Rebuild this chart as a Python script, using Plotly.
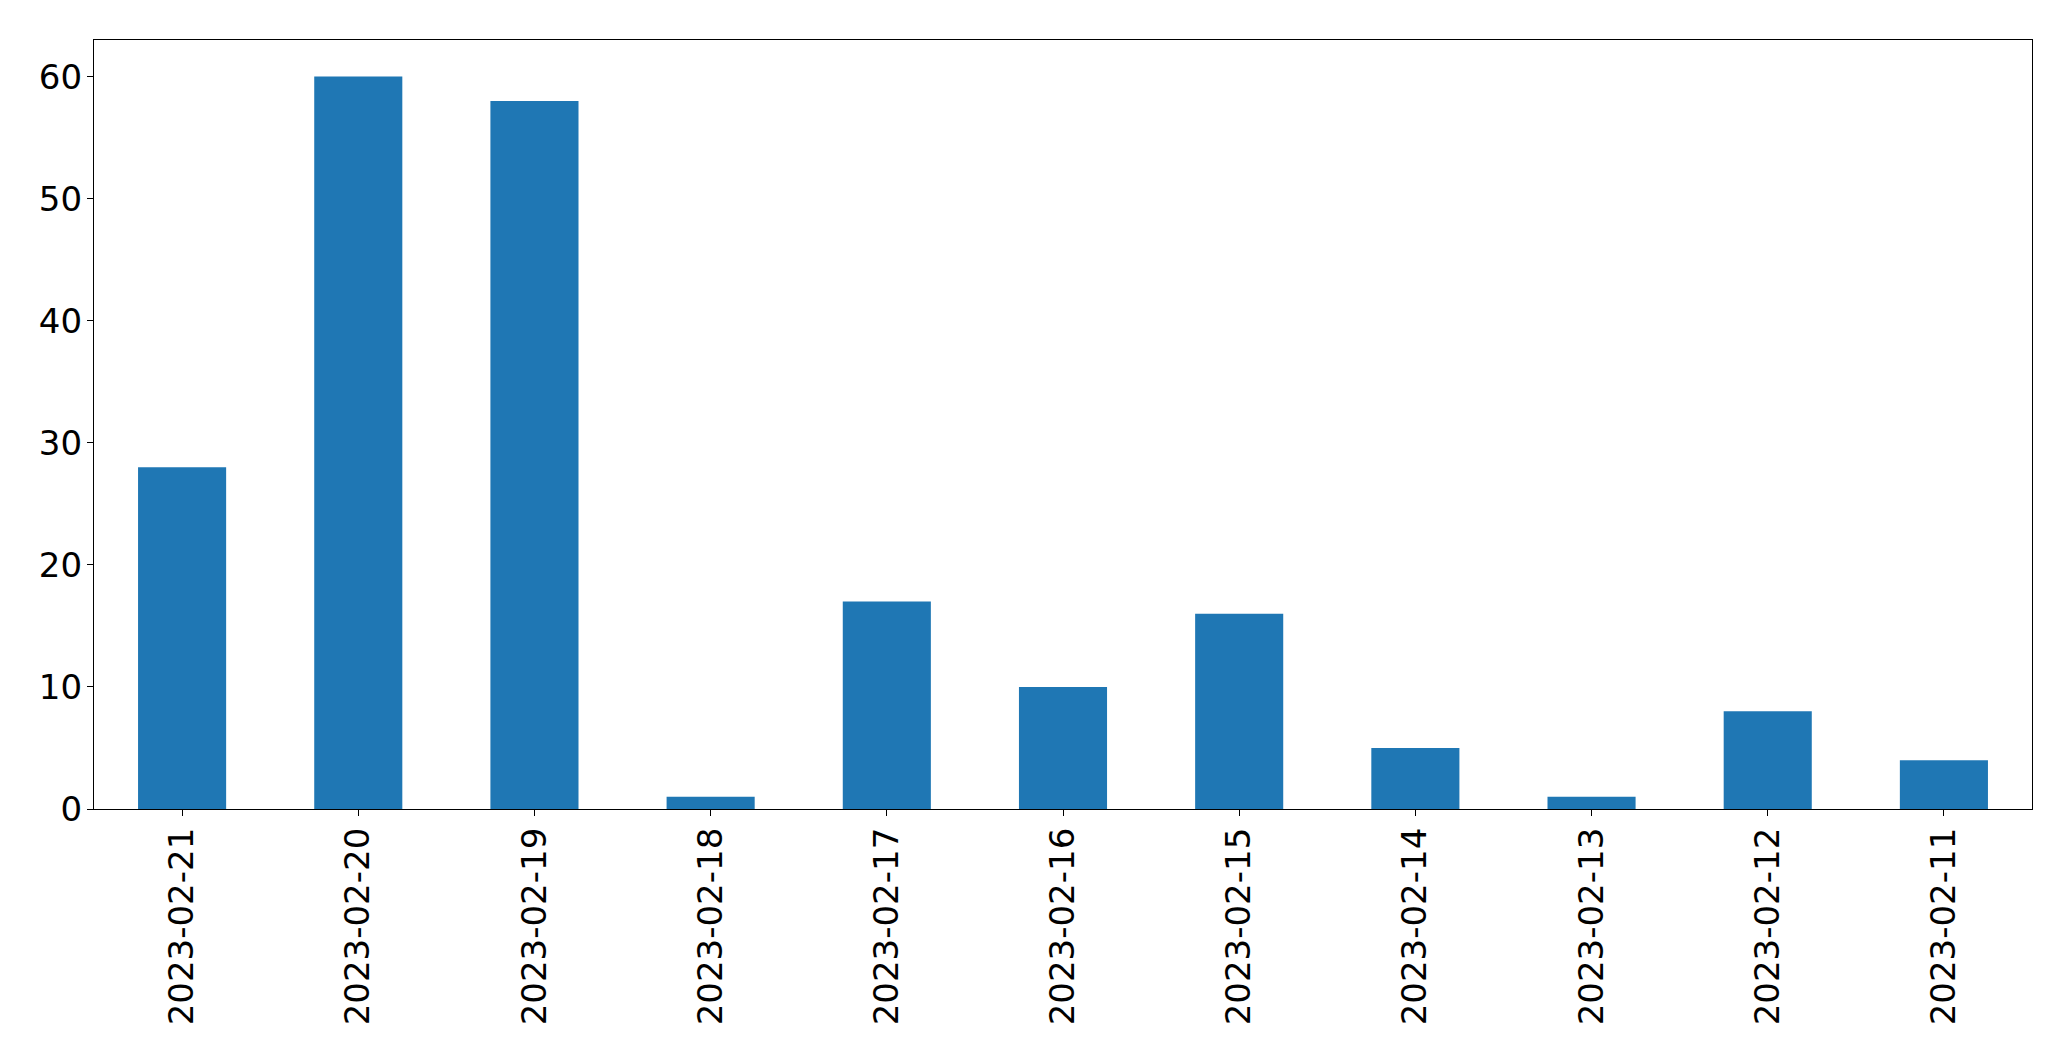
import plotly.graph_objects as go

dates = ["2023-02-21", "2023-02-20", "2023-02-19", "2023-02-18", "2023-02-17",
         "2023-02-16", "2023-02-15", "2023-02-14", "2023-02-13", "2023-02-12", "2023-02-11"]
counts = [28, 60, 58, 1, 17, 10, 16, 5, 1, 8, 4]
y_ticks = [0, 10, 20, 30, 40, 50, 60]

fig = go.Figure(go.Bar(x=dates, y=counts, width=0.5, marker=dict(color="#1f77b4", line=dict(width=0))))

font = dict(family="DejaVu Sans", size=34, color="black")
fig.update_layout(
    width=2063, height=1053,
    margin=dict(l=86, r=39, t=32, b=252),
    paper_bgcolor="white", plot_bgcolor="white",
    showlegend=False,
    font=font,
)
fig.update_xaxes(
    type="category", range=[-0.5, 10.5], tickangle=-90,
    showline=True, linecolor="black", linewidth=1.3, mirror=True,
    ticks="outside", ticklen=6, tickwidth=1.3, tickcolor="black",
    showgrid=False, tickfont=font, ticklabelstandoff=-2,
)
fig.update_yaxes(
    range=[0, 63], tickvals=y_ticks,
    showline=True, linecolor="black", linewidth=1.3, mirror=True,
    ticks="outside", ticklen=6, tickwidth=1.3, tickcolor="black",
    showgrid=False, zeroline=False, tickfont=font, ticklabelstandoff=-2,
)
fig.write_html("out.html")
